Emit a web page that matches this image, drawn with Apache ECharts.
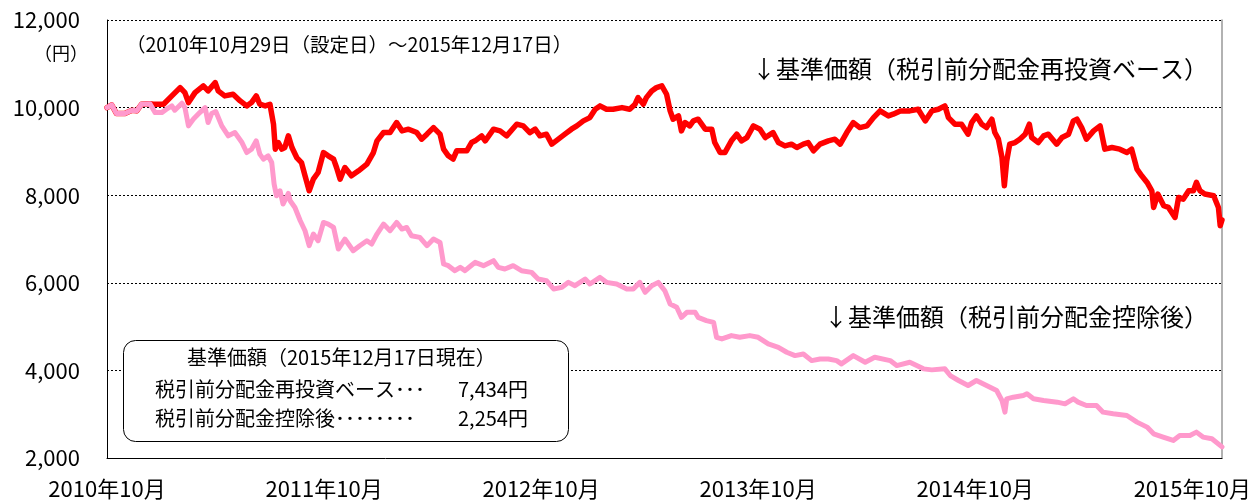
<!DOCTYPE html>
<html><head><meta charset="utf-8">
<script src="https://cdn.jsdelivr.net/npm/echarts@6/dist/echarts.min.js"></script>
<style>html,body{margin:0;padding:0;background:#fff}#c{width:1258px;height:502px}</style>
</head><body><div id="c"></div>
<script>
// Days since launch (2010-10-29) and NAV values (円)
const xTickYears = [2010, 2011, 2012, 2013, 2014, 2015];
const yTicks = [2000, 4000, 6000, 8000, 10000, 12000];

// 基準価額（税引前分配金再投資ベース）
const redDay = [0,8,16,30,42,50,58,72,78,86,95,109,123,131,137,148,162,170,182,187,198,212,224,235,243,251,257,266,274,280,283,288,294,299,305,311,319,327,333,340,347,355,364,372,381,386,392,400,411,423,437,448,454,465,476,487,496,507,521,529,538,549,560,566,574,582,588,596,605,613,619,630,636,650,661,672,689,700,711,720,728,739,748,759,770,781,790,801,812,821,829,840,851,866,879,888,893,902,907,916,924,933,941,947,952,961,966,972,980,986,994,1006,1017,1022,1031,1039,1050,1059,1067,1076,1087,1098,1107,1120,1129,1140,1151,1160,1171,1179,1188,1199,1213,1224,1233,1244,1255,1266,1278,1289,1300,1314,1322,1334,1350,1364,1376,1387,1398,1409,1415,1426,1437,1448,1454,1462,1471,1479,1488,1493,1499,1505,1509,1513,1518,1527,1535,1544,1551,1555,1566,1575,1583,1597,1606,1617,1625,1631,1639,1647,1659,1670,1678,1690,1703,1715,1723,1732,1740,1749,1757,1760,1767,1777,1785,1796,1802,1810,1819,1827,1832,1838,1846,1861,1869,1872,1875];
const redNav = [10000,10060,9863,9863,9940,9925,10077,10090,10077,10077,10077,10267,10456,10342,10114,10342,10495,10381,10570,10381,10267,10305,10153,10039,10114,10267,10077,10039,10077,9621,9051,9202,9051,9088,9355,9088,8860,8746,8443,8101,8367,8518,8974,8899,8824,8632,8367,8632,8443,8557,8709,8974,9241,9430,9430,9658,9469,9507,9430,9279,9393,9544,9393,9051,8899,8824,9013,9013,9013,9202,9241,9355,9241,9507,9469,9355,9621,9583,9430,9507,9355,9393,9165,9279,9393,9507,9583,9697,9772,9963,10039,9963,9963,10000,9963,10077,10228,10077,10228,10381,10456,10495,10305,9925,9735,9811,9469,9658,9583,9697,9735,9507,9507,9202,8974,8974,9241,9393,9241,9316,9583,9507,9316,9430,9202,9126,9165,9088,9165,9202,9013,9165,9241,9279,9165,9430,9658,9544,9583,9772,9925,9811,9849,9925,9925,9963,9697,9925,9963,10039,9772,9621,9621,9393,9658,9811,9621,9544,9735,9430,9279,8860,8215,8785,9165,9202,9279,9393,9621,9316,9202,9355,9393,9165,9316,9393,9697,9735,9544,9279,9469,9583,9051,9088,9051,8974,9051,8596,8443,8291,8101,7721,8026,7759,7721,7493,7949,7911,8101,8101,8291,8101,8026,7987,7721,7304,7434];

// 基準価額（税引前分配金控除後）
const pinkDay = [0,8,16,30,42,50,58,72,81,92,100,109,114,126,131,137,145,156,165,170,176,183,193,204,215,227,235,243,251,257,263,271,277,281,285,291,296,305,308,316,325,333,340,347,355,364,372,381,389,400,414,425,437,445,454,465,476,487,496,504,512,526,538,549,560,566,574,585,594,602,613,619,633,650,658,669,683,697,714,725,739,751,765,776,787,804,812,829,840,857,874,885,896,905,916,927,938,947,958,966,975,989,994,1008,1020,1025,1034,1050,1064,1081,1095,1112,1129,1143,1157,1171,1185,1199,1213,1227,1235,1255,1275,1291,1317,1328,1350,1373,1387,1409,1418,1432,1448,1462,1479,1496,1505,1510,1513,1524,1541,1547,1558,1575,1598,1611,1625,1633,1647,1664,1675,1692,1715,1732,1749,1760,1776,1793,1804,1821,1832,1843,1858,1875];
const pinkNav = [10000,10060,9863,9863,9940,9925,10077,10090,9886,9886,9963,10040,9940,10100,10000,9583,9735,9886,10000,9658,9863,9909,9583,9355,9430,9202,8974,9051,9241,8937,8824,8899,8746,8254,7987,8101,7798,8040,7873,7720,7417,7189,6847,7113,6961,7378,7341,7264,6771,6999,6733,6847,6961,6885,7113,7341,7189,7378,7227,7264,7075,7036,6847,6999,6922,6429,6391,6277,6352,6277,6400,6466,6391,6505,6352,6315,6391,6277,6238,6087,6049,5860,5896,6010,5935,6087,5973,6124,6010,5973,5860,5860,6010,5782,5935,6010,5820,5517,5441,5212,5326,5326,5212,5137,5098,4756,4718,4794,4756,4794,4756,4604,4528,4414,4338,4376,4224,4262,4262,4224,4148,4338,4186,4300,4224,4110,4186,4035,4012,4035,3883,3769,3655,3769,3655,3541,3313,3047,3351,3389,3427,3465,3351,3313,3275,3237,3351,3275,3199,3199,3047,3009,2971,2819,2705,2553,2477,2401,2515,2515,2591,2477,2439,2254];

const FONT = '"Noto Sans CJK JP", "Noto Sans", sans-serif';
const toPairs = (xs, ys) => xs.map((d, i) => [d, ys[i]]);
const lastDay = redDay[redDay.length - 1];
const yearDays = 365;

const chart = echarts.init(document.getElementById('c'), null, {renderer: 'canvas'});
chart.setOption({
  animation: false,
  backgroundColor: '#fff',
  textStyle: {fontFamily: FONT},
  grid: {left: 107, right: 36, top: 20, bottom: 44, containLabel: false},
  xAxis: {
    type: 'value', min: 0, max: lastDay, interval: yearDays,
    axisLine: {show: true, lineStyle: {color: '#000', width: 1}},
    axisTick: {show: false},
    splitLine: {show: false},
    axisLabel: {
      color: '#000', fontSize: 22, fontFamily: FONT, margin: 20,
      showMaxLabel: false,
      formatter: v => (v % yearDays === 0) ? (xTickYears[v / yearDays] + '年10月') : ''
    }
  },
  yAxis: [{
    type: 'value', min: yTicks[0], max: yTicks[yTicks.length - 1], interval: 2000,
    axisLine: {show: true, lineStyle: {color: '#000', width: 1}},
    axisTick: {show: false},
    splitLine: {show: true, lineStyle: {color: '#000', type: [2, 2], width: 1}},
    axisLabel: {
      color: '#000', fontSize: 22, fontFamily: FONT, margin: 27,
      formatter: v => v.toLocaleString('en-US')
    }
  }, {
    type: 'value', position: 'right', min: yTicks[0], max: yTicks[yTicks.length - 1], interval: 2000,
    axisLine: {show: true, lineStyle: {color: '#999', width: 1.5}},
    axisTick: {show: false}, axisLabel: {show: false}, splitLine: {show: false}
  }],
  series: [{
    name: '基準価額（税引前分配金再投資ベース）',
    type: 'line', data: toPairs(redDay, redNav), showSymbol: false, symbol: 'none',
    lineStyle: {color: '#FF0000', width: 5.5, join: 'round', cap: 'round'}, z: 2
  }, {
    name: '基準価額（税引前分配金控除後）',
    type: 'line', data: toPairs(pinkDay, pinkNav), showSymbol: false, symbol: 'none',
    lineStyle: {color: '#FF99CC', width: 5, join: 'round', cap: 'round'}, z: 3
  }],
  graphic: [
    {type: 'text', left: 34, top: 44, style: {text: '（円）', fontSize: 18, fontFamily: FONT, fill: '#000'}},
    {type: 'text', left: 126, top: 35, style: {text: '（2010年10月29日（設定日）～2015年12月17日）', fontSize: 19.5, fontFamily: FONT, fill: '#000'}},
    {type: 'text', right: 50, top: 57, style: {text: '↓基準価額（税引前分配金再投資ベース）', fontSize: 24, fontFamily: FONT, fill: '#000'}},
    {type: 'text', right: 50, top: 305, style: {text: '↓基準価額（税引前分配金控除後）', fontSize: 24, fontFamily: FONT, fill: '#000'}},
    {type: 'rect', left: 123, top: 340, z: 10, shape: {width: 445, height: 101, r: 12}, style: {fill: '#fff', stroke: '#000', lineWidth: 1}},
    {type: 'text', left: 187, top: 347, z: 11, style: {text: '基準価額（2015年12月17日現在）', fontSize: 20, fontFamily: FONT, fill: '#000'}},
    {type: 'text', left: 155, top: 379, z: 11, style: {text: '税引前分配金再投資ベース･･･', fontSize: 20, fontFamily: FONT, fill: '#000'}},
    {type: 'text', left: 458, top: 379, z: 11, style: {text: '7,434円', fontSize: 20, fontFamily: FONT, fill: '#000'}},
    {type: 'text', left: 155, top: 408, z: 11, style: {text: '税引前分配金控除後････････', fontSize: 20, fontFamily: FONT, fill: '#000'}},
    {type: 'text', left: 458, top: 408, z: 11, style: {text: '2,254円', fontSize: 20, fontFamily: FONT, fill: '#000'}}
  ]
});
</script></body></html>
